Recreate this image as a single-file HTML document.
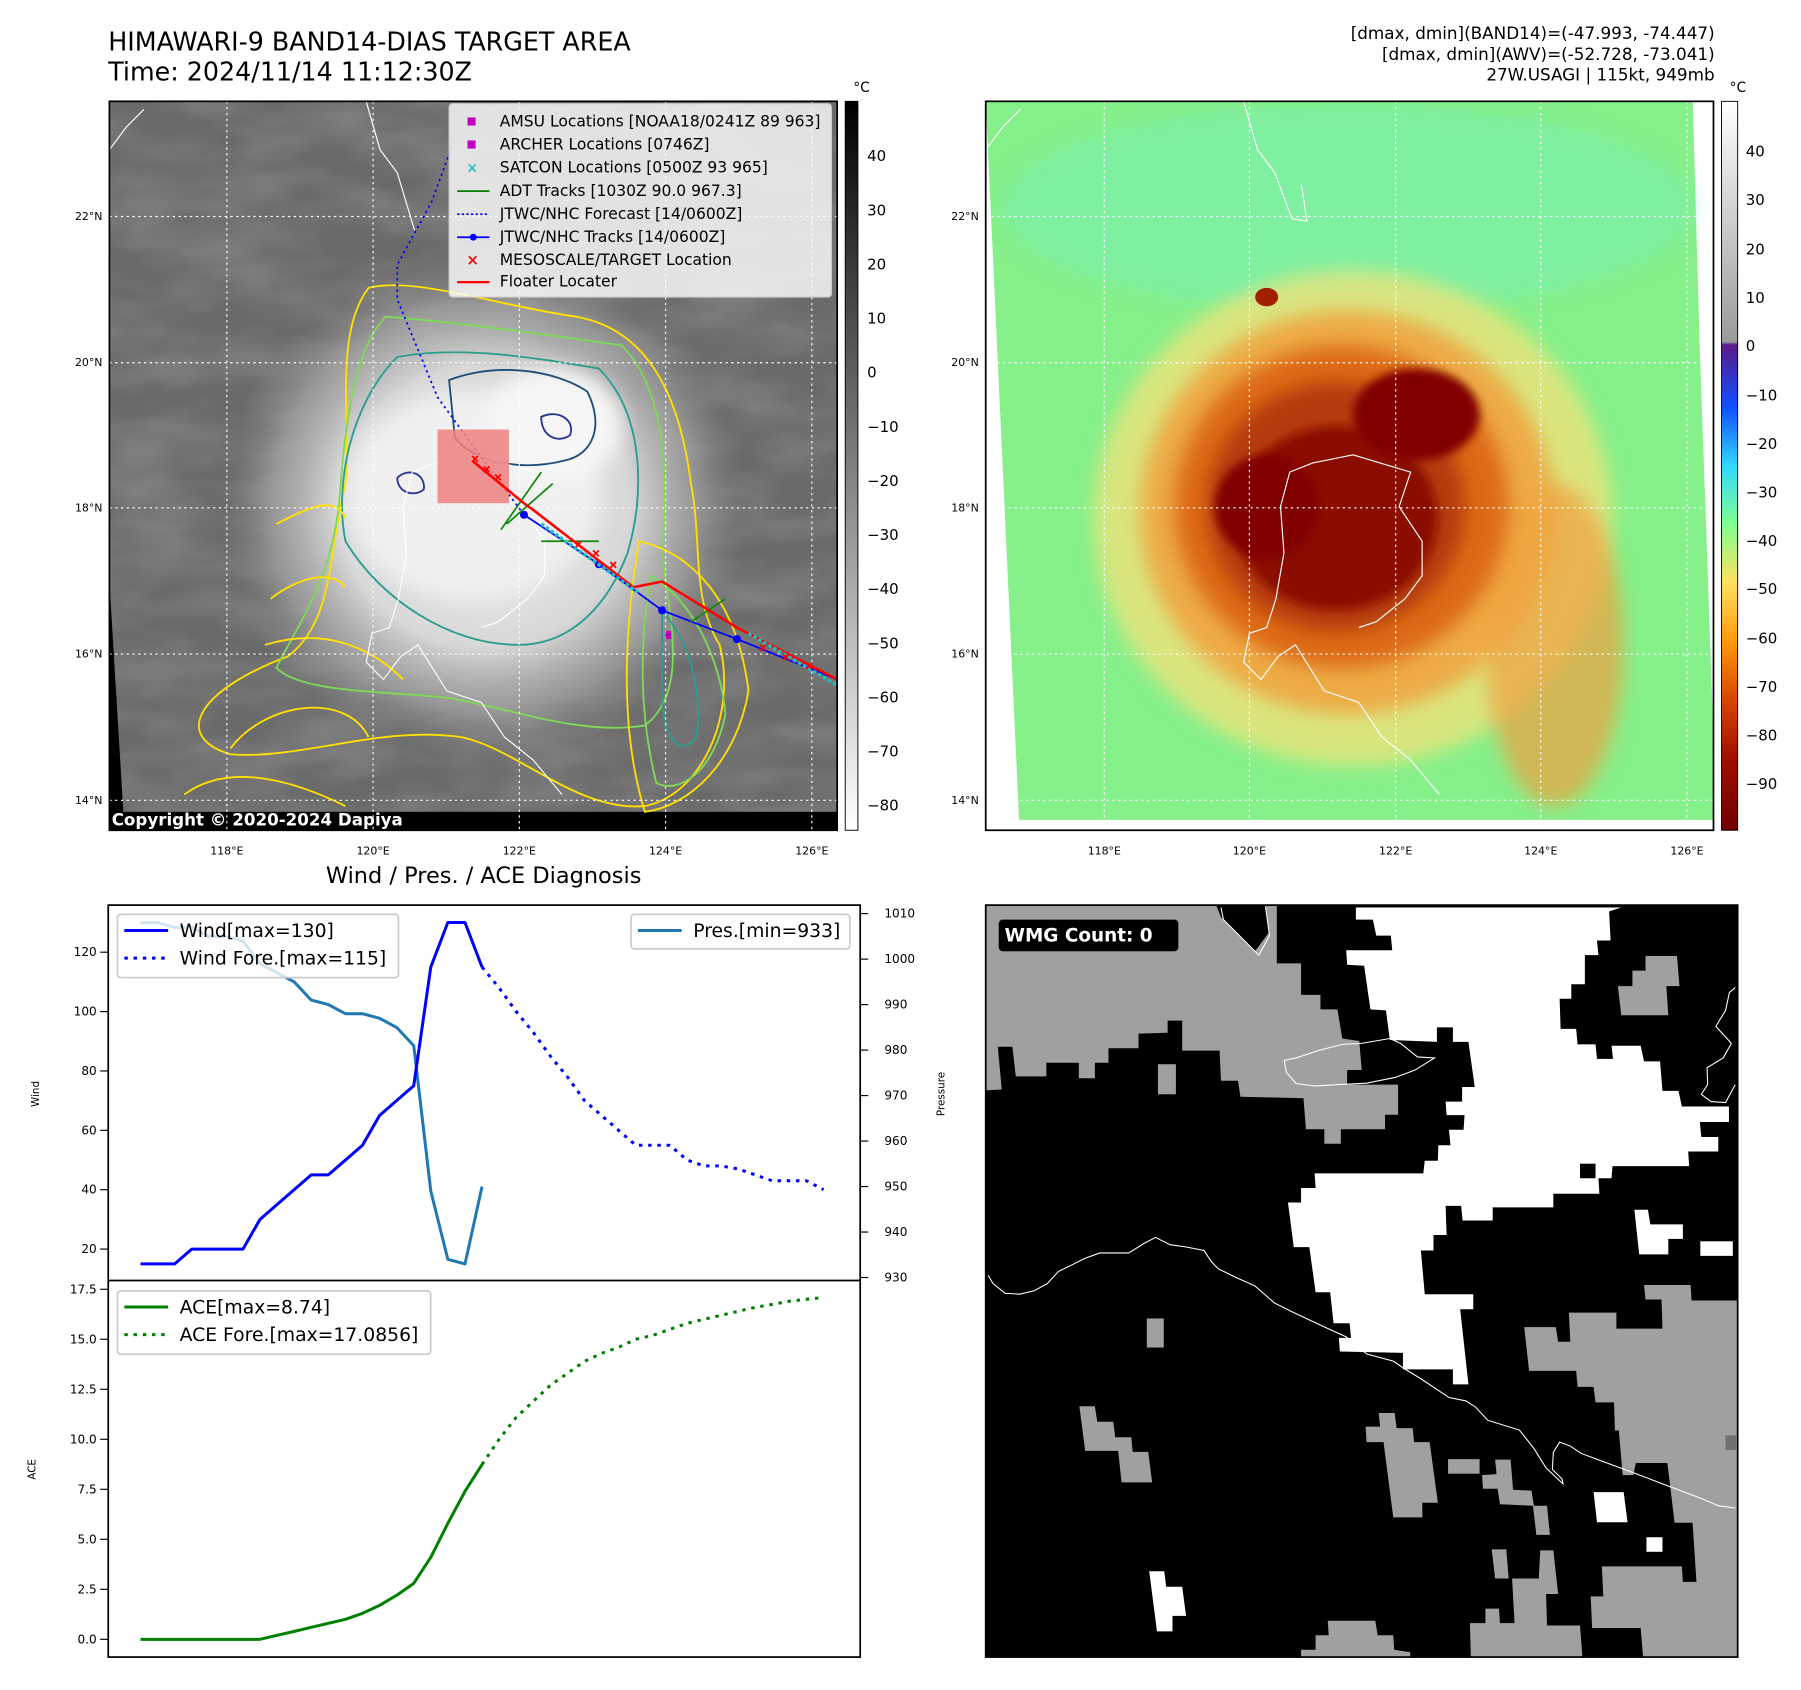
<!DOCTYPE html>
<html><head><meta charset="utf-8"><style>
html,body{margin:0;padding:0;background:#fff}
svg{display:block;font-family:"DejaVu Sans","Liberation Sans",sans-serif}
</style></head><body>
<svg id="root" width="1801" height="1690" viewBox="0 0 1564 1467.6" xmlns="http://www.w3.org/2000/svg">
<defs>
<clipPath id="c1"><rect x="95" y="88" width="632" height="633"/></clipPath>
<clipPath id="c2"><rect x="856" y="88" width="632" height="633"/></clipPath>
<clipPath id="c3"><rect x="856" y="786" width="653" height="653"/></clipPath>
<radialGradient id="storm1" cx="0.5" cy="0.5" r="0.5">
<stop offset="0" stop-color="#f4f4f4"/><stop offset="0.55" stop-color="#d8d8d8"/><stop offset="0.8" stop-color="#a8a8a8" stop-opacity="0.7"/><stop offset="1" stop-color="#808080" stop-opacity="0"/></radialGradient>
<linearGradient id="cbg" x1="0" y1="0" x2="0" y2="1"><stop offset="0" stop-color="#000"/><stop offset="1" stop-color="#fff"/></linearGradient>
<linearGradient id="cbc" x1="0" y1="0" x2="0" y2="1">
<stop offset="0" stop-color="#ffffff"/><stop offset="0.33" stop-color="#9a9a9a"/><stop offset="0.334" stop-color="#5a1a8a"/>
<stop offset="0.42" stop-color="#1050ff"/><stop offset="0.5" stop-color="#30d8ff"/><stop offset="0.58" stop-color="#80ff90"/>
<stop offset="0.66" stop-color="#ffe060"/><stop offset="0.74" stop-color="#ff9a10"/><stop offset="0.82" stop-color="#d84800"/>
<stop offset="0.9" stop-color="#a01000"/><stop offset="1" stop-color="#700000"/></linearGradient>
<filter id="blur8"><feGaussianBlur stdDeviation="8"/></filter>
<filter id="blur4"><feGaussianBlur stdDeviation="4"/></filter>
<filter id="noise" x="0" y="0" width="1" height="1"><feTurbulence type="fractalNoise" baseFrequency="0.012 0.03" numOctaves="3" seed="4"/><feColorMatrix type="matrix" values="0 0 0 0 0.55  0 0 0 0 0.55  0 0 0 0 0.55  0 0 0 1 -0.3"/></filter>
</defs>

<text x="94" y="44" font-size="22">HIMAWARI-9 BAND14-DIAS TARGET AREA</text>
<text x="94" y="70" font-size="22">Time: 2024/11/14 11:12:30Z</text>
<g font-size="14.6" text-anchor="end">
<text x="1489" y="34">[dmax, dmin](BAND14)=(-47.993, -74.447)</text>
<text x="1489" y="52">[dmax, dmin](AWV)=(-52.728, -73.041)</text>
<text x="1489" y="70">27W.USAGI | 115kt, 949mb</text>
</g>

<!-- MAP 1 -->
<g clip-path="url(#c1)">
<rect x="95" y="88" width="632" height="633" fill="#6a6a6a"/>
<rect x="95" y="88" width="632" height="633" fill="#808080" filter="url(#noise)" opacity="0.45"/>
<ellipse cx="420" cy="440" rx="230" ry="220" fill="url(#storm1)"/>
<ellipse cx="410" cy="430" rx="110" ry="90" fill="#f0f0f0" filter="url(#blur8)"/>
<ellipse cx="480" cy="370" rx="60" ry="50" fill="#f6f6f6" filter="url(#blur8)"/>
<polygon points="95,505 108,720 95,721" fill="#000"/>
<rect x="95" y="705" width="632" height="16" fill="#000"/>
<g fill="none" stroke-width="1.6">
<path d="M320,250 C360,240 430,265 500,275 C560,285 590,340 600,420 C610,470 600,520 625,560 C640,620 610,690 560,700 C500,705 450,650 400,640 C330,630 260,660 200,655 C150,640 170,600 250,570 C290,540 285,480 300,420 C305,360 290,290 320,250 Z" stroke="#ffe000"/>
<path d="M335,275 C400,280 470,290 540,300 C580,340 580,420 575,480 C580,530 600,600 560,630 C500,640 430,610 380,605 C320,600 260,600 240,580 C260,540 290,500 295,430 C300,360 310,300 335,275 Z" stroke="#7ed957"/>
<path d="M345,310 C400,300 460,310 520,320 C560,360 560,430 545,480 C530,520 500,560 450,560 C390,560 330,520 300,470 C290,420 305,350 345,310 Z" stroke="#2a9d8f"/>
<path d="M390,330 C430,315 480,320 510,340 C525,370 515,395 490,400 C450,410 410,400 395,380 Z" stroke="#1f4e79"/>
<path d="M470,362 C485,355 500,365 495,378 C485,385 470,380 470,362 Z" stroke="#283593"/>
<path d="M345,415 C355,405 370,412 368,425 C360,432 345,428 345,415 Z" stroke="#283593"/>
<path d="M200,650 C230,610 300,600 320,640 M160,690 C200,660 260,680 300,700" stroke="#ffe000"/>
<path d="M555,470 C600,480 640,520 650,600 C640,660 600,700 560,705 C540,640 540,560 555,470 Z" stroke="#ffe000"/>
<path d="M565,500 C600,520 625,570 630,620 C620,670 590,690 570,680 C555,620 555,560 565,500 Z" stroke="#7ed957"/>
<path d="M575,530 C600,560 610,600 605,640 C590,660 575,640 575,600 Z" stroke="#2a9d8f"/>
<path d="M240,455 C270,440 290,430 300,450 M235,520 C260,500 290,495 300,510 M230,560 C280,545 320,560 350,590" stroke="#ffe000"/>
</g>
<g stroke="#fff" stroke-width="1" stroke-dasharray="2,3">
<line x1="197" y1="88" x2="197" y2="721"/><line x1="324" y1="88" x2="324" y2="721"/><line x1="451" y1="88" x2="451" y2="721"/><line x1="578" y1="88" x2="578" y2="721"/><line x1="705" y1="88" x2="705" y2="721"/>
<line x1="95" y1="188" x2="727" y2="188"/><line x1="95" y1="315" x2="727" y2="315"/><line x1="95" y1="441" x2="727" y2="441"/><line x1="95" y1="568" x2="727" y2="568"/><line x1="95" y1="695" x2="727" y2="695"/>
</g>
<g fill="none" stroke="#fff" stroke-width="1">
<path d="M378,402 L358,410 350,440 353,480 346,520 338,545 323,550 318,575 333,590 348,570 363,560 388,600 418,610 438,640 463,660 488,690 M378,402 L413,395 463,410 453,440 473,470 473,500 458,520 433,540 418,545"/>
<path d="M318,88 L330,130 345,150 360,200 M95,130 L110,110 125,95"/>
</g>
<path d="M455,447 L420,400 380,345 345,260 345,230 375,175 395,120" fill="none" stroke="#0000ff" stroke-width="1.5" stroke-dasharray="2,3"/>
<path d="M455,447 L520,490 575,530 640,555 727,590" fill="none" stroke="#0000ff" stroke-width="1.5"/>
<g fill="#0000ff"><circle cx="455" cy="447" r="3.5"/><circle cx="520" cy="490" r="3.5"/><circle cx="575" cy="530" r="3.5"/><circle cx="640" cy="555" r="3.5"/></g>
<path d="M435,460 L470,410 M440,455 L480,420 M470,470 L520,470 M600,540 L630,520" stroke="#0a8a0a" stroke-width="1.5" fill="none"/>
<rect x="380" y="373" width="62" height="64" fill="#f08080" opacity="0.85"/>
<path d="M410,400 L455,437 L462,442 L550,510 L575,505 L640,545 L727,590" fill="none" stroke="#ff0000" stroke-width="2.2"/>
<path d="M470,455 L555,515 M650,550 L727,595" stroke="#20c0c0" stroke-width="3" fill="none" stroke-dasharray="3,2"/>
<g stroke="#ff0000" stroke-width="1.5">
<path d="M410,396 l5,5 m0,-5 l-5,5 M420,405 l5,5 m0,-5 l-5,5 M430,412 l5,5 m0,-5 l-5,5 M500,470 l5,5 m0,-5 l-5,5 M515,478 l5,5 m0,-5 l-5,5 M530,488 l5,5 m0,-5 l-5,5 M660,560 l5,5 m0,-5 l-5,5 M680,568 l5,5 m0,-5 l-5,5 M700,576 l5,5 m0,-5 l-5,5"/>
</g>
<rect x="578" y="548" width="5" height="7" fill="#c000c0"/>
<text x="97" y="717" font-size="14.5" font-weight="bold" fill="#fff">Copyright © 2020-2024 Dapiya</text>
</g>
<rect x="95" y="88" width="632" height="633" fill="none" stroke="#000" stroke-width="1.5"/>
<g font-size="13.5">
<rect x="390" y="90" width="332" height="168" rx="3" fill="#fff" fill-opacity="0.8" stroke="#ccc"/>
<rect x="406" y="102" width="7" height="7" fill="#c000c0"/><text x="434" y="110">AMSU Locations [NOAA18/0241Z 89 963]</text>
<rect x="406" y="122" width="7" height="7" fill="#c000c0"/><text x="434" y="130">ARCHER Locations [0746Z]</text>
<text x="405" y="150" fill="#20c0c0" font-size="12" font-weight="bold">×</text><text x="434" y="150">SATCON Locations [0500Z 93 965]</text>
<line x1="397" y1="166" x2="425" y2="166" stroke="#008000" stroke-width="1.5"/><text x="434" y="170">ADT Tracks [1030Z 90.0 967.3]</text>
<line x1="397" y1="186" x2="425" y2="186" stroke="#0000ff" stroke-width="1.5" stroke-dasharray="2,2"/><text x="434" y="190">JTWC/NHC Forecast [14/0600Z]</text>
<line x1="397" y1="206" x2="425" y2="206" stroke="#0000ff" stroke-width="1.5"/><circle cx="411" cy="206" r="3" fill="#0000ff"/><text x="434" y="210">JTWC/NHC Tracks [14/0600Z]</text>
<text x="405" y="230" fill="#ff0000" font-size="13" font-weight="bold">×</text><text x="434" y="230">MESOSCALE/TARGET Location</text>
<line x1="397" y1="245" x2="425" y2="245" stroke="#ff0000" stroke-width="2"/><text x="434" y="249">Floater Locater</text>
</g>
<rect x="734" y="88" width="11" height="633" fill="url(#cbg)" stroke="#000" stroke-width="0.8"/>
<text x="741" y="80" font-size="12">°C</text>
<g font-size="13">
<text x="753" y="140">40</text><text x="753" y="187">30</text><text x="753" y="234">20</text><text x="753" y="281">10</text><text x="753" y="328">0</text>
<text x="753" y="375">−10</text><text x="753" y="422">−20</text><text x="753" y="469">−30</text><text x="753" y="516">−40</text><text x="753" y="563">−50</text>
<text x="753" y="610">−60</text><text x="753" y="657">−70</text><text x="753" y="704">−80</text></g>
<g font-size="9.5">
<g text-anchor="middle"><text x="197" y="742">118°E</text><text x="324" y="742">120°E</text><text x="451" y="742">122°E</text><text x="578" y="742">124°E</text><text x="705" y="742">126°E</text></g>
<g text-anchor="end"><text x="89" y="191">22°N</text><text x="89" y="318">20°N</text><text x="89" y="444">18°N</text><text x="89" y="571">16°N</text><text x="89" y="698">14°N</text></g>
</g>

<!-- MAP 2 -->
<g clip-path="url(#c2)">
<rect x="856" y="88" width="632" height="633" fill="#fff"/>
<polygon points="856,88 1470,88 1476,300 1488,640 1488,712 885,712" fill="#86f08a"/>
<ellipse cx="1170" cy="180" rx="300" ry="90" fill="#7cf0b0" opacity="0.6" filter="url(#blur8)"/>
<ellipse cx="1175" cy="450" rx="225" ry="215" fill="#f6e27a" filter="url(#blur8)" opacity="0.75"/>
<ellipse cx="1350" cy="560" rx="60" ry="140" fill="#f0a040" filter="url(#blur8)" opacity="0.7"/>
<ellipse cx="1170" cy="445" rx="180" ry="175" fill="#f0a540" filter="url(#blur8)" opacity="0.9"/>
<ellipse cx="1165" cy="440" rx="145" ry="140" fill="#dd6a18" filter="url(#blur8)"/>
<ellipse cx="1160" cy="440" rx="112" ry="108" fill="#b43a08" filter="url(#blur8)"/>
<ellipse cx="1160" cy="450" rx="88" ry="80" fill="#8a0c00" filter="url(#blur4)"/>
<ellipse cx="1230" cy="360" rx="55" ry="40" fill="#800000" filter="url(#blur4)"/>
<ellipse cx="1100" cy="440" rx="45" ry="45" fill="#800000" filter="url(#blur4)"/>
<ellipse cx="1100" cy="258" rx="10" ry="8" fill="#a02000"/>
<g stroke="#fff" stroke-width="1" stroke-dasharray="2,3">
<line x1="959" y1="88" x2="959" y2="721"/><line x1="1085" y1="88" x2="1085" y2="721"/><line x1="1212" y1="88" x2="1212" y2="721"/><line x1="1338" y1="88" x2="1338" y2="721"/><line x1="1465" y1="88" x2="1465" y2="721"/>
<line x1="856" y1="188" x2="1488" y2="188"/><line x1="856" y1="315" x2="1488" y2="315"/><line x1="856" y1="441" x2="1488" y2="441"/><line x1="856" y1="568" x2="1488" y2="568"/><line x1="856" y1="695" x2="1488" y2="695"/>
</g>
<g fill="none" stroke="#fff" stroke-width="1">
<path d="M1140,402 L1120,410 1112,440 1115,480 1108,520 1100,545 1085,550 1080,575 1095,590 1110,570 1125,560 1150,600 1180,610 1200,640 1225,660 1250,690 M1140,402 L1175,395 1225,410 1215,440 1235,470 1235,500 1220,520 1195,540 1180,545"/>
<path d="M1080,88 L1092,130 1107,150 1122,190 1135,192 1130,160 M856,130 L871,110 886,95"/>
</g>
</g>
<rect x="856" y="88" width="632" height="633" fill="none" stroke="#000" stroke-width="1.5"/>
<rect x="1495" y="88" width="14" height="633" fill="url(#cbc)" stroke="#000" stroke-width="0.8"/>
<text x="1502" y="80" font-size="12">°C</text>
<g font-size="13">
<text x="1516" y="136">40</text><text x="1516" y="178">30</text><text x="1516" y="221">20</text><text x="1516" y="263">10</text><text x="1516" y="305">0</text>
<text x="1516" y="348">−10</text><text x="1516" y="390">−20</text><text x="1516" y="432">−30</text><text x="1516" y="474">−40</text><text x="1516" y="516">−50</text>
<text x="1516" y="559">−60</text><text x="1516" y="601">−70</text><text x="1516" y="643">−80</text><text x="1516" y="685">−90</text></g>
<g font-size="9.5">
<g text-anchor="middle"><text x="959" y="742">118°E</text><text x="1085" y="742">120°E</text><text x="1212" y="742">122°E</text><text x="1338" y="742">124°E</text><text x="1465" y="742">126°E</text></g>
<g text-anchor="end"><text x="850" y="191">22°N</text><text x="850" y="318">20°N</text><text x="850" y="444">18°N</text><text x="850" y="571">16°N</text><text x="850" y="698">14°N</text></g>
</g>

<!-- WMG panel -->
<g clip-path="url(#c3)">
<rect x="856" y="786" width="653" height="653" fill="#000"/>
<g transform="translate(856,786) scale(0.4213) translate(-5,-5)">
<g fill="#a0a0a0">
<polygon points="5,5 480,5 490,30 560,100 590,60 580,5 605,5 605,125 655,125 655,190 695,190 695,220 730,220 740,280 775,285 780,345 750,345 750,375 855,375 855,437 828,437 828,467 737,467 737,497 703,497 703,467 665,467 660,403 530,400 525,367 490,367 487,305 410,305 410,243 380,243 380,268 320,270 320,300 258,300 258,330 230,330 230,362 197,362 197,330 130,330 130,358 67,358 60,297 30,297 38,385 5,387"/>
<rect x="360" y="333" width="37" height="62"/>
<polygon points="1365,110 1430,110 1435,172 1408,172 1412,232 1315,232 1308,172 1338,172 1338,140 1365,140"/>
<polygon points="1362,788 1458,788 1460,820 1555,820 1555,1555 1360,1555 1355,1495 1255,1495 1252,1430 1278,1430 1275,1368 1440,1368 1442,1400 1470,1400 1462,1278 1425,1278 1410,1155 1345,1155 1340,1180 1318,1180 1310,1088 1302,1088 1300,1030 1262,1030 1258,998 1225,998 1222,965 1125,965 1115,875 1180,875 1185,905 1210,905 1207,845 1305,845 1305,878 1400,878 1398,818 1365,818"/>
<rect x="337" y="857" width="35" height="60"/>
<polygon points="198,1038 230,1038 235,1070 268,1070 272,1102 305,1102 308,1132 340,1132 348,1195 285,1195 278,1130 210,1130"/>
<polygon points="788,1080 818,1080 815,1052 848,1052 852,1083 885,1083 888,1112 920,1112 937,1237 905,1237 905,1267 845,1267 825,1112 790,1112"/>
<rect x="958" y="1147" width="65" height="30"/>
<polygon points="1055,1148 1087,1148 1092,1210 1130,1212 1135,1243 1162,1243 1168,1303 1140,1303 1133,1243 1065,1240 1060,1208 1030,1208 1028,1180 1058,1178"/>
<polygon points="1048,1333 1078,1333 1083,1393 1145,1393 1148,1335 1175,1335 1185,1425 1160,1425 1162,1490 1230,1490 1235,1555 1005,1555 1003,1485 1035,1485 1035,1455 1063,1455 1065,1485 1095,1485 1090,1393 1055,1393"/>
<polygon points="710,1480 808,1480 813,1510 845,1510 847,1540 880,1545 880,1555 655,1555 655,1540 685,1540 685,1510 712,1510"/>
</g>
<rect x="1530" y="1098" width="22" height="30" fill="#707070"/>
<g fill="#fff">
<polygon points="768,10 1315,10 1290,18 1293,78 1265,78 1268,108 1240,108 1240,168 1212,168 1212,198 1188,198 1190,260 1222,260 1225,292 1262,292 1265,322 1298,322 1295,295 1355,295 1362,327 1395,327 1400,388 1433,388 1440,420 1537,420 1537,452 1477,452 1480,483 1515,483 1515,513 1453,513 1455,543 1297,543 1295,568 1268,568 1270,600 1175,600 1175,628 1050,628 1050,655 988,655 985,625 953,625 955,685 928,685 928,717 902,717 910,807 1010,807 1010,838 983,838 1000,993 968,993 968,962 865,962 865,928 735,925 733,897 758,897 755,867 722,867 715,803 685,803 672,710 640,710 628,618 655,618 655,588 685,588 683,558 907,558 910,532 937,532 938,500 963,500 960,468 990,468 992,438 955,438 953,410 987,410 987,380 1013,380 1000,287 968,287 968,257 935,257 935,287 838,283 830,222 798,220 785,130 750,128 748,98 843,98 840,68 810,68 803,35 768,35"/>
<polygon points="1342,633 1370,633 1375,663 1442,663 1442,693 1412,693 1412,725 1352,725"/>
<rect x="1478" y="698" width="67" height="30"/>
<polygon points="1258,1215 1320,1215 1328,1277 1265,1277"/>
<rect x="1367" y="1308" width="33" height="30"/>
<polygon points="342,1378 373,1378 377,1410 410,1410 418,1470 390,1470 390,1502 358,1502"/>
</g>
<rect x="1230" y="538" width="32" height="30" fill="#000"/>
<g fill="none" stroke="#fff" stroke-width="2.2">
<path d="M490,10 L495,35 568,108 590,68 582,10"/>
<path d="M10,768 L20,785 45,805 75,807 105,800 132,785 155,760 180,748 210,733 240,722 300,722 330,703 355,690 385,705 420,710 455,717 470,740 485,755 520,772 560,790 600,825 640,845 700,873 748,895 790,930 845,945 870,962 900,980 930,1000 960,1020 995,1027 1015,1040 1040,1067 1105,1087 1135,1125 1160,1165 1195,1198 1193,1188 1173,1168 1175,1133 1188,1112 1210,1120 1232,1135 1280,1153 1340,1175 1400,1198 1440,1213 1480,1228 1515,1243 1550,1248"/>
<path d="M620,325 L645,320 690,305 740,292 780,290 838,280 860,290 895,318 930,320 890,345 850,360 790,372 730,375 685,378 645,373 625,350 620,325"/>
<path d="M1550,175 L1538,185 1530,222 1510,255 1542,290 1525,320 1492,340 1493,375 1480,395 1500,410 1530,412 1550,375"/>
</g>
<rect x="32" y="35" width="370" height="65" rx="8" fill="#000" stroke="#444"/>
<text x="44" y="80" font-size="38" font-weight="bold" fill="#fff">WMG Count: 0</text>
</g>
</g>
<rect x="856" y="786" width="653" height="653" fill="none" stroke="#000" stroke-width="1.5"/>

<text x="420" y="767" font-size="19.5" text-anchor="middle">Wind / Pres. / ACE Diagnosis</text>
<g id="chart"></g>
<rect x="94" y="786" width="653" height="653" fill="none" stroke="#000" stroke-width="1.5"/>
<line x1="94" y1="1112" x2="747" y2="1112" stroke="#000" stroke-width="1.5"/>
</svg>
<script>
const windObs = [15,15,15,20,20,20,20,30,35,40,45,45,50,55,65,70,75,115,130,130,115];
const windFore = [115,108,100,93,85,78,70,65,60,55,55,55,50,48,48,47,45,43,43,43,40];
const presObs = [1008,1008,1007,1007,1005,1005,1004,999,997,995,991,990,988,988,987,985,981,949,934,933,950];
const aceObs = [0,0,0,0,0,0,0,0,0.2,0.4,0.6,0.8,1.0,1.3,1.7,2.2,2.8,4.1,5.8,7.4,8.74];
const aceFore = [8.74,10.0,11.1,11.9,12.7,13.3,13.9,14.3,14.6,15.0,15.2,15.5,15.8,16.0,16.2,16.4,16.6,16.75,16.9,17.0,17.09];
const windTicks = [20,40,60,80,100,120];
const presTicks = [930,940,950,960,970,980,990,1000,1010];
const aceTicks = [0,2.5,5,7.5,10,12.5,15,17.5];
const foreStart = 20;

const NS = 'http://www.w3.org/2000/svg';
const chart = document.getElementById('chart');
const xs = i => 122 + i * 14.83;
const yWind = v => 1084.7 - (v - 20) * 2.578;
const yPres = p => 1109.4 - (p - 930) * 3.95;
const yAce = a => 1423.6 - a * 17.37;

function mk(tag, attrs) { const e = document.createElementNS(NS, tag); for (const k in attrs) e.setAttribute(k, attrs[k]); chart.appendChild(e); return e; }
function line(vals, off, yf, color, dash, name) {
  const d = vals.map((v, i) => (i ? 'L' : 'M') + xs(i + off).toFixed(1) + ',' + yf(v).toFixed(1)).join(' ');
  const p = mk('path', {d: d, fill: 'none', stroke: color, 'stroke-width': 2.6, 'stroke-dasharray': dash || 'none', 'stroke-linejoin': 'round'});
  
  
}
line(presObs, 0, yPres, '#1f77b4', null, 'pressure-line');
line(windObs, 0, yWind, '#0000ff', null, 'wind-line');
line(windFore, foreStart, yWind, '#0000ff', '3,5', 'wind-forecast-line');
line(aceObs, 0, yAce, '#008000', null, 'ace-line');
line(aceFore, foreStart, yAce, '#008000', '3,5', 'ace-forecast-line');

function tick(x1, x2, y, label, tx, anchor, name) {
  mk('line', {x1: x1, x2: x2, y1: y, y2: y, stroke: '#000', 'stroke-width': 1});
  const t = mk('text', {x: tx, y: y + 3.5, 'font-size': 10.5, 'text-anchor': anchor});
  t.textContent = label;
  
  
}
windTicks.forEach(v => tick(87, 94, yWind(v), String(v), 84, 'end', 'wind-tick-label'));
presTicks.forEach(v => tick(747, 754, yPres(v), String(v), 768, 'start', 'pressure-tick-label'));
aceTicks.forEach(v => tick(87, 94, yAce(v), v.toFixed(1), 84, 'end', 'ace-tick-label'));

function ylabel(x, y, txt, name) {
  const t = mk('text', {x: x, y: y, 'font-size': 9, 'text-anchor': 'middle', transform: 'rotate(-90 ' + x + ' ' + y + ')'});
  t.textContent = txt;
  
  
}
ylabel(34, 950, 'Wind', 'wind-axis-title');
ylabel(820, 950, 'Pressure', 'pressure-axis-title');
ylabel(31, 1276, 'ACE', 'ace-axis-title');

function legend(x, y, w, h, items, name) {
  const r = mk('rect', {x: x, y: y, width: w, height: h, rx: 3, fill: '#fff', 'fill-opacity': 0.8, stroke: '#ccc', 'stroke-width': 1.5});
  
  
  items.forEach((it, k) => {
    const cy = y + 14 + k * 24;
    mk('line', {x1: x + 6, x2: x + 44, y1: cy, y2: cy, stroke: it.c, 'stroke-width': 2.6, 'stroke-dasharray': it.d || 'none'});
    const t = mk('text', {x: x + 54, y: cy + 5.5, 'font-size': 16.3});
    t.textContent = it.t;
    
    
  });
}
legend(102, 794, 244, 55, [{c: '#0000ff', t: 'Wind[max=130]'}, {c: '#0000ff', d: '3,5', t: 'Wind Fore.[max=115]'}], 'wind-legend');
legend(548, 794, 190, 30, [{c: '#1f77b4', t: 'Pres.[min=933]'}], 'pressure-legend');
legend(102, 1121, 272, 55, [{c: '#008000', t: 'ACE[max=8.74]'}, {c: '#008000', d: '3,5', t: 'ACE Fore.[max=17.0856]'}], 'ace-legend');
</script>
</body></html>
